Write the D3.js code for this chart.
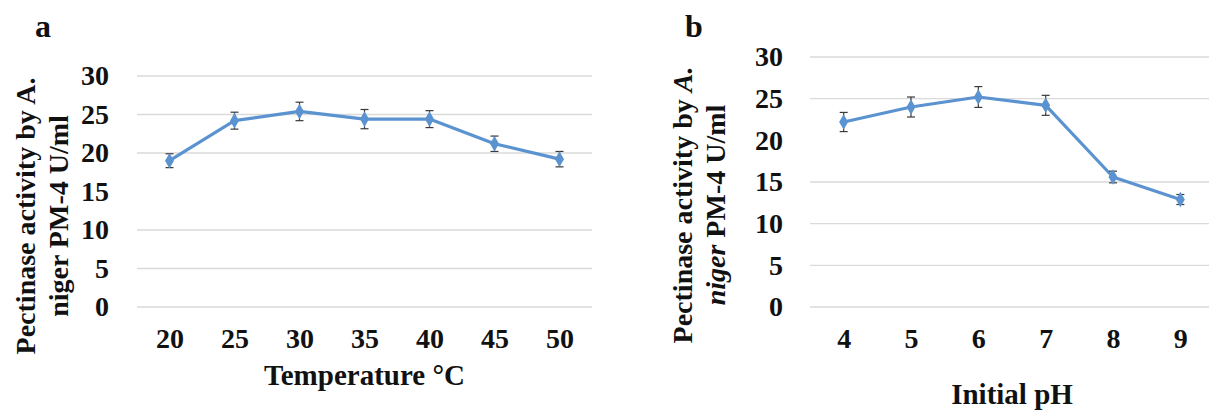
<!DOCTYPE html>
<html>
<head>
<meta charset="utf-8">
<script src="https://cdn.jsdelivr.net/npm/d3@7"></script>
<style>
    body { margin: 0; background: #fff; }
    svg { display: block; font-family: "Times New Roman", "Liberation Serif", serif; font-weight: bold; }
</style>
</head>
<body>
<svg id="chart" width="1209" height="411"></svg>
<script>
// Pectinase activity of A. niger PM-4: temperature (a) and initial pH (b)

// Panel a: temperature
const tempLabels = ["20", "25", "30", "35", "40", "45", "50"];
const tempActivity = [19.0, 24.2, 25.4, 24.4, 24.4, 21.2, 19.2];
const tempError = [0.9, 1.1, 1.2, 1.25, 1.1, 1.0, 1.0];

// Panel b: initial pH
const phLabels = ["4", "5", "6", "7", "8", "9"];
const phActivity = [22.2, 24.0, 25.2, 24.2, 15.6, 12.9];
const phError = [1.15, 1.2, 1.25, 1.2, 0.7, 0.6];

// y axis ticks (same for both panels)
const yTicks = [0, 5, 10, 15, 20, 25, 30];
// gridlines that are actually visible in the figure
const tempGrid = [0, 5, 10, 20, 25, 30];
const phGrid = [0, 5, 10, 15, 25, 30];

const FONT = "Times New Roman, Liberation Serif, serif";
const LINE_COLOR = "#5b93d0";
const GRID_COLOR = "#dadada";
const ERR_COLOR = "#3a3a3a";

const svg = d3.select("#chart");

drawPanel({
    letter: "a", letterX: 35,
    labels: tempLabels, values: tempActivity, errors: tempError, grid: tempGrid,
    left: 137, right: 592, top: 76, bottom: 307,
    tickPad: 28,
    xTitle: "Temperature °C", xTitleY: 385,
    yTitleX: [35, 68], yTitleY: 216,
    italic: false
});

drawPanel({
    letter: "b", letterX: 685,
    labels: phLabels, values: phActivity, errors: phError, grid: phGrid,
    left: 810, right: 1214, top: 57, bottom: 307,
    tickPad: 27,
    xTitle: "Initial pH", xTitleY: 404,
    yTitleX: [692, 725], yTitleY: 205,
    italic: true
});

function drawPanel(cfg) {
    const x = d3.scalePoint()
        .domain(cfg.labels)
        .range([cfg.left, cfg.right])
        .padding(0.5);

    const y = d3.scaleLinear()
        .domain([0, 30])
        .range([cfg.bottom, cfg.top]);

    const g = svg.append("g");

    // gridlines
    g.selectAll(".grid")
        .data(cfg.grid)
        .join("line")
        .attr("x1", cfg.left)
        .attr("x2", cfg.right)
        .attr("y1", d => y(d))
        .attr("y2", d => y(d))
        .attr("stroke", GRID_COLOR)
        .attr("stroke-width", 1.4);

    // y axis
    const yAxis = g.append("g")
        .attr("transform", `translate(${cfg.left},0)`)
        .call(d3.axisLeft(y).tickValues(yTicks).tickSize(0).tickPadding(cfg.tickPad));
    yAxis.attr("font-family", FONT);
    yAxis.select(".domain").remove();
    yAxis.selectAll("text")
        .attr("font-family", FONT)
        .attr("font-weight", "bold")
        .attr("font-size", 28)
        .attr("fill", "#111");

    // x axis
    const xAxis = g.append("g")
        .attr("transform", `translate(0,${cfg.bottom})`)
        .call(d3.axisBottom(x).tickSize(0).tickPadding(21));
    xAxis.attr("font-family", FONT);
    xAxis.select(".domain").remove();
    xAxis.selectAll("text")
        .attr("font-family", FONT)
        .attr("font-weight", "bold")
        .attr("font-size", 28)
        .attr("fill", "#111");

    const points = cfg.labels.map((label, i) => ({
        label: label,
        value: cfg.values[i],
        err: cfg.errors[i]
    }));

    // line
    const line = d3.line()
        .x(d => x(d.label))
        .y(d => y(d.value));

    g.append("path")
        .datum(points)
        .attr("d", line)
        .attr("fill", "none")
        .attr("stroke", LINE_COLOR)
        .attr("stroke-width", 3.2)
        .attr("stroke-linejoin", "round");

    // error bars
    const err = g.selectAll(".err")
        .data(points)
        .join("g")
        .attr("stroke", ERR_COLOR)
        .attr("stroke-width", 1.2);

    err.append("line")
        .attr("x1", d => x(d.label))
        .attr("x2", d => x(d.label))
        .attr("y1", d => y(d.value - d.err))
        .attr("y2", d => y(d.value + d.err));
    err.append("line")
        .attr("x1", d => x(d.label) - 4)
        .attr("x2", d => x(d.label) + 4)
        .attr("y1", d => y(d.value + d.err))
        .attr("y2", d => y(d.value + d.err));
    err.append("line")
        .attr("x1", d => x(d.label) - 4)
        .attr("x2", d => x(d.label) + 4)
        .attr("y1", d => y(d.value - d.err))
        .attr("y2", d => y(d.value - d.err));

    // markers
    g.selectAll(".marker")
        .data(points)
        .join("path")
        .attr("d", d3.symbol(d3.symbolDiamond, 70))
        .attr("transform", d => `translate(${x(d.label)},${y(d.value)})`)
        .attr("fill", LINE_COLOR);

    // x title
    g.append("text")
        .attr("x", (cfg.left + cfg.right) / 2)
        .attr("y", cfg.xTitleY)
        .attr("text-anchor", "middle")
        .attr("font-size", 29)
        .attr("fill", "#111")
        .text(cfg.xTitle);

    // y title, two lines
    const t1 = g.append("text")
        .attr("transform", `translate(${cfg.yTitleX[0]},${cfg.yTitleY}) rotate(-90)`)
        .attr("text-anchor", "middle")
        .attr("font-size", 28)
        .attr("fill", "#111");
    t1.append("tspan").text("Pectinase activity by ");
    t1.append("tspan").attr("font-style", cfg.italic ? "italic" : "normal").text("A.");

    const t2 = g.append("text")
        .attr("transform", `translate(${cfg.yTitleX[1]},${cfg.yTitleY}) rotate(-90)`)
        .attr("text-anchor", "middle")
        .attr("font-size", 28)
        .attr("fill", "#111");
    t2.append("tspan").attr("font-style", cfg.italic ? "italic" : "normal").text("niger");
    t2.append("tspan").text(" PM-4 U/ml");

    // panel letter
    svg.append("text")
        .attr("x", cfg.letterX)
        .attr("y", 37)
        .attr("font-size", 32)
        .attr("fill", "#111")
        .text(cfg.letter);
}
</script>
</body>
</html>
